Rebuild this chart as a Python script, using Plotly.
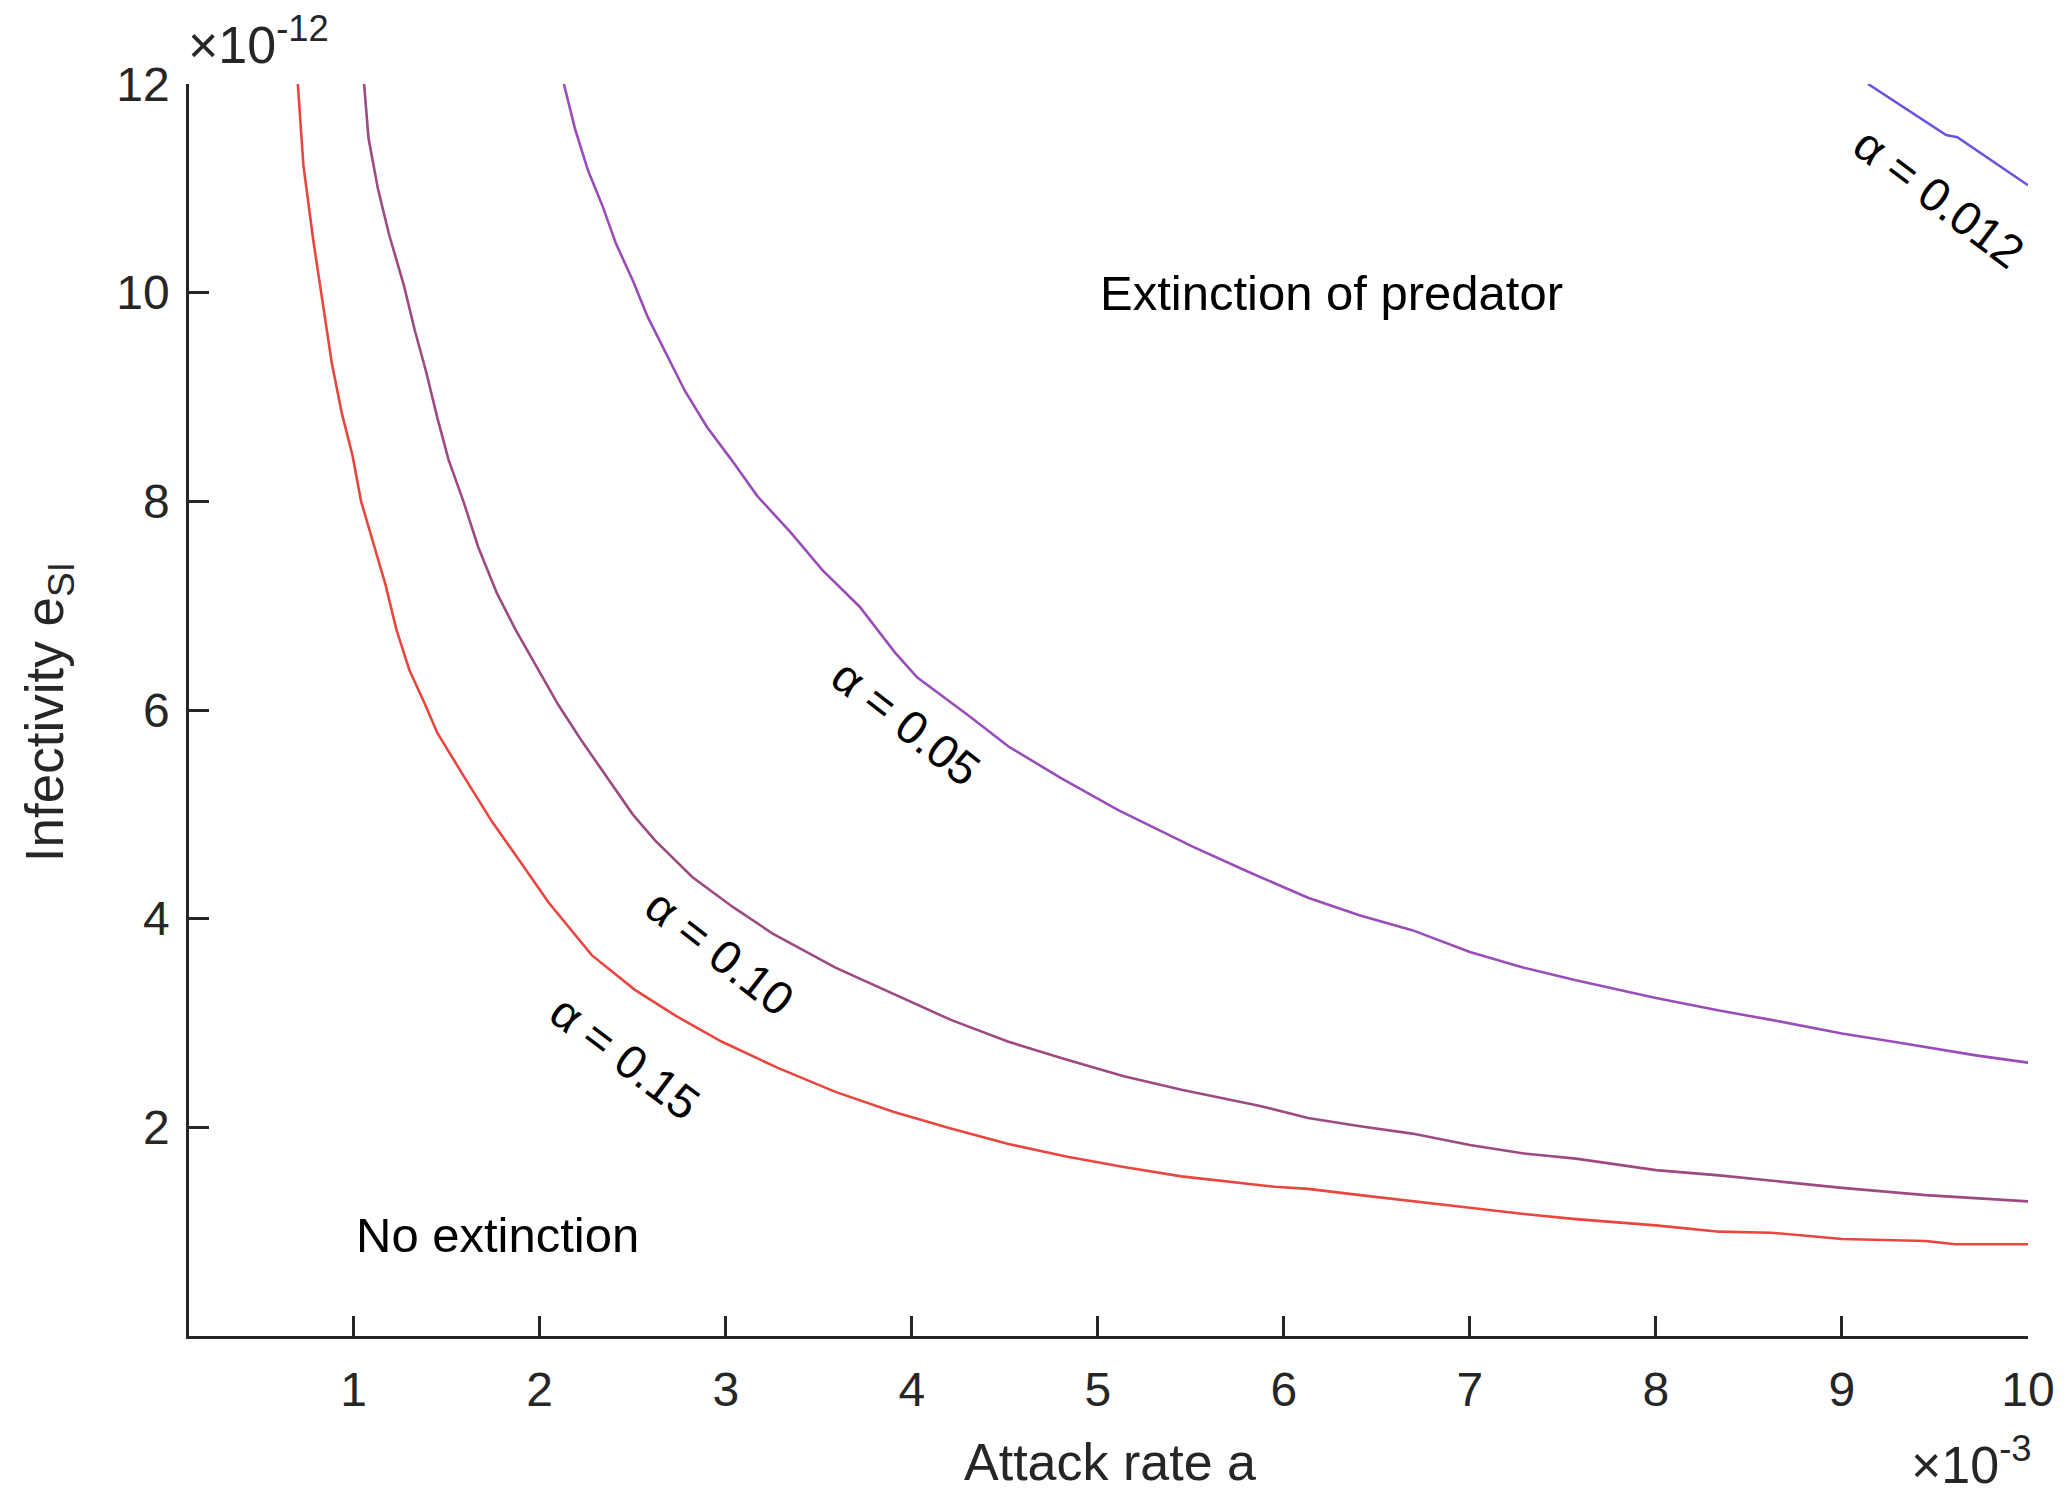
import plotly.graph_objects as go

# Attack rate a in units of 1e-3, infectivity e_SI in units of 1e-12
a_015 = [0.70, 0.73, 0.784, 0.834, 0.883, 0.937, 0.994, 1.04, 1.10, 1.17, 1.23, 1.30, 1.38, 1.45, 1.58,
         1.74, 1.89, 2.05, 2.28, 2.51, 2.73, 2.98, 3.28, 3.59, 3.90, 4.21, 4.52, 4.83, 5.14, 5.45, 5.95,
         6.13, 6.41, 6.69, 7.0, 7.29, 7.57, 8.0, 8.34, 8.62, 9.0, 9.45, 9.61, 10.0]
e_015 = [12.0, 11.22, 10.49, 9.90, 9.32, 8.84, 8.44, 8.00, 7.63, 7.21, 6.77, 6.38, 6.07, 5.78, 5.40,
         4.94, 4.56, 4.15, 3.65, 3.32, 3.07, 2.82, 2.57, 2.34, 2.15, 1.99, 1.84, 1.72, 1.62, 1.53, 1.43,
         1.41, 1.35, 1.29, 1.23, 1.17, 1.12, 1.06, 1.00, 0.99, 0.93, 0.91, 0.88, 0.88]

a_010 = [1.056, 1.08, 1.13, 1.19, 1.27, 1.33, 1.39, 1.45, 1.51, 1.59, 1.67, 1.77, 1.87, 1.98, 2.10,
         2.22, 2.36, 2.50, 2.62, 2.82, 3.04, 3.25, 3.59, 3.90, 4.21, 4.52, 4.83, 5.14, 5.45, 5.86,
         6.13, 6.41, 6.69, 7.0, 7.29, 7.57, 8.0, 8.34, 8.62, 9.0, 9.45, 10.0]
e_010 = [12.0, 11.48, 11.0, 10.56, 10.07, 9.63, 9.24, 8.80, 8.40, 8.00, 7.56, 7.12, 6.77, 6.42, 6.05,
         5.72, 5.36, 5.00, 4.75, 4.40, 4.11, 3.86, 3.53, 3.28, 3.03, 2.82, 2.65, 2.49, 2.36, 2.21,
         2.09, 2.01, 1.94, 1.83, 1.75, 1.70, 1.59, 1.54, 1.49, 1.42, 1.35, 1.29]

a_005 = [2.13, 2.19, 2.26, 2.34, 2.41, 2.50, 2.58, 2.68, 2.78, 2.90, 3.03, 3.17, 3.35, 3.52, 3.72,
         3.91, 4.03, 4.31, 4.52, 4.80, 5.11, 5.51, 5.82, 6.13, 6.41, 6.69, 7.0, 7.29, 7.57, 8.0,
         8.34, 8.62, 9.0, 9.31, 9.72, 10.0]
e_005 = [12.0, 11.57, 11.17, 10.82, 10.47, 10.12, 9.77, 9.41, 9.06, 8.71, 8.40, 8.05, 7.70, 7.34, 6.99,
         6.55, 6.31, 5.94, 5.65, 5.35, 5.04, 4.69, 4.44, 4.20, 4.03, 3.89, 3.68, 3.53, 3.41, 3.24,
         3.12, 3.03, 2.90, 2.81, 2.69, 2.62]

a_0012 = [9.14, 9.56, 9.62, 10.0]
e_0012 = [12.0, 11.51, 11.49, 11.03]

curve_names = ["α = 0.15", "α = 0.10", "α = 0.05", "α = 0.012"]
curve_colors = ["#e8463f", "#9e4a82", "#9a4cb8", "#6f52dc"]

# label positions (a, e) and angle
label_a = [2.46, 2.97, 3.97, 9.52]
label_e = [2.67, 3.68, 5.88, 10.91]
label_angle = [37, 38, 38, 37]

W, H = 2067, 1493
L, R, T, B = 189, 37, 84, 157
PW, PH = W - L - R, H - T - B

FONT = "Liberation Sans, Arial, Helvetica, sans-serif"
AX = "#262626"

fig = go.Figure()
for xs, ys, col, name in zip([a_015, a_010, a_005, a_0012], [e_015, e_010, e_005, e_0012],
                             curve_colors, curve_names):
    fig.add_trace(go.Scatter(x=xs, y=ys, mode="lines", name=name,
                             line=dict(color=col, width=2.6), showlegend=False))

def px_x(p):
    return (p - L) / PW

def px_y(p):
    return (T + PH - p) / PH

ann = []
for name, xa, ye, ang in zip(curve_names, label_a, label_e, label_angle):
    ann.append(dict(x=xa, y=ye, xref="x", yref="y", text=name, showarrow=False,
                    textangle=ang, xanchor="center", yanchor="middle",
                    font=dict(family=FONT, size=47, color="black")))

ann.append(dict(x=5, y=10, xref="x", yref="y", text="Extinction of predator", showarrow=False,
                xanchor="left", yanchor="middle", font=dict(family=FONT, size=49, color="black")))
ann.append(dict(x=1, y=0.97, xref="x", yref="y", text="No extinction", showarrow=False,
                xanchor="left", yanchor="middle", font=dict(family=FONT, size=49, color="black")))

# axis titles
ann.append(dict(x=px_x(1111), y=px_y(1462), xref="paper", yref="paper", text="Attack rate a",
                showarrow=False, xanchor="center", yanchor="middle",
                font=dict(family=FONT, size=52, color=AX)))
ann.append(dict(x=px_x(48), y=px_y(712), xref="paper", yref="paper", text="Infectivity e<sub>SI</sub>",
                showarrow=False, xanchor="center", yanchor="middle", textangle=-90,
                font=dict(family=FONT, size=53, color=AX)))
# exponent labels
ann.append(dict(x=px_x(186), y=px_y(76), xref="paper", yref="paper", text="×10<sup>-12</sup>",
                showarrow=False, xanchor="left", yanchor="bottom",
                font=dict(family=FONT, size=52, color=AX)))
ann.append(dict(x=px_x(2036), y=px_y(1496), xref="paper", yref="paper", text="×10<sup>-3</sup>",
                showarrow=False, xanchor="right", yanchor="bottom",
                font=dict(family=FONT, size=52, color=AX)))

fig.update_layout(
    width=W, height=H,
    margin=dict(l=L, r=R, t=T, b=B, pad=0),
    paper_bgcolor="white", plot_bgcolor="white",
    annotations=ann,
    xaxis=dict(range=[0.115, 10], tickvals=list(range(1, 11)), ticks="inside", ticklen=20,
               tickwidth=2.5, tickcolor=AX, showline=True, linecolor=AX, linewidth=2.5,
               showgrid=False, zeroline=False, mirror=False, ticklabelstandoff=10,
               tickfont=dict(family=FONT, size=48, color=AX)),
    yaxis=dict(range=[0, 12], tickvals=[2, 4, 6, 8, 10, 12], ticks="inside", ticklen=20,
               tickwidth=2.5, tickcolor=AX, showline=True, linecolor=AX, linewidth=2.5,
               showgrid=False, zeroline=False, mirror=False, ticklabelstandoff=7,
               tickfont=dict(family=FONT, size=48, color=AX)),
)

fig.write_html("out.html", config={"displayModeBar": False})
